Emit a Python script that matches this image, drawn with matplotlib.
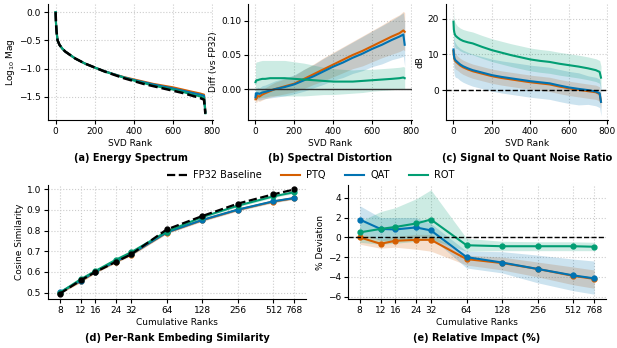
import matplotlib.pyplot as plt
import numpy as np
from matplotlib.lines import Line2D

plt.rcParams["font.family"] = "DejaVu Sans"
plt.rcParams["font.size"] = 6.5

C_PTQ = "#d55e00"
C_QAT = "#0173b2"
C_ROT = "#029e73"

# ---- top row: values read at these SVD ranks ----
ranks = [0, 2, 5, 10, 20, 35, 50, 75, 100, 150, 200, 250, 300, 350, 400,
         450, 500, 550, 600, 650, 700, 740, 760, 767]

# (a) log10 magnitude
mag_fp32 = [0.0, -0.2, -0.35, -0.5, -0.58, -0.65, -0.70, -0.76, -0.82, -0.91, -0.98, -1.05,
            -1.11, -1.17, -1.22, -1.27, -1.31, -1.35, -1.39, -1.43, -1.48, -1.52, -1.55, -1.80]
mag_ptq = [0.0, -0.2, -0.35, -0.5, -0.58, -0.65, -0.70, -0.76, -0.82, -0.91, -0.98, -1.045,
           -1.10, -1.15, -1.19, -1.23, -1.27, -1.30, -1.33, -1.37, -1.41, -1.44, -1.46, -1.75]
mag_qat = [0.0, -0.2, -0.35, -0.5, -0.58, -0.65, -0.70, -0.76, -0.82, -0.91, -0.98, -1.045,
           -1.10, -1.155, -1.20, -1.24, -1.28, -1.315, -1.35, -1.39, -1.43, -1.46, -1.48, -1.77]
mag_rot = [0.0, -0.2, -0.35, -0.5, -0.58, -0.65, -0.70, -0.76, -0.82, -0.91, -0.98, -1.05,
           -1.105, -1.16, -1.21, -1.255, -1.30, -1.335, -1.37, -1.41, -1.46, -1.49, -1.52, -1.79]

# (b) spectral distortion, mean and spread
diff_ptq = [-0.015, -0.012, -0.014, -0.010, -0.011, -0.008, -0.006, -0.003, 0.000, 0.004, 0.008,
            0.015, 0.022, 0.029, 0.036, 0.043, 0.050, 0.056, 0.063, 0.070, 0.077, 0.082, 0.086, 0.084]
diff_qat = [-0.012, -0.006, -0.008, -0.006, -0.007, -0.005, -0.004, -0.002, 0.000, 0.003, 0.007,
            0.013, 0.019, 0.026, 0.033, 0.039, 0.046, 0.052, 0.059, 0.065, 0.072, 0.077, 0.080, 0.065]
diff_rot = [0.010, 0.012, 0.013, 0.013, 0.014, 0.015, 0.015, 0.016, 0.016, 0.016, 0.015, 0.014,
            0.013, 0.012, 0.011, 0.011, 0.011, 0.012, 0.013, 0.014, 0.015, 0.016, 0.017, 0.016]
sd_ptq = [0.006, 0.006, 0.006, 0.007, 0.007, 0.008, 0.008, 0.009, 0.010, 0.011, 0.012, 0.014,
          0.015, 0.017, 0.018, 0.019, 0.020, 0.022, 0.023, 0.024, 0.026, 0.027, 0.028, 0.028]
sd_qat = [0.008, 0.008, 0.008, 0.009, 0.009, 0.010, 0.010, 0.011, 0.012, 0.013, 0.014, 0.016,
          0.017, 0.019, 0.020, 0.022, 0.023, 0.025, 0.026, 0.028, 0.029, 0.031, 0.032, 0.032]
sd_rot = [0.027, 0.027, 0.027, 0.027, 0.027, 0.027, 0.027, 0.026, 0.026, 0.026, 0.025, 0.024,
          0.022, 0.020, 0.019, 0.018, 0.017, 0.017, 0.016, 0.016, 0.016, 0.016, 0.016, 0.016]

# (c) SNR in dB, mean and spread
snr_ptq = [11.0, 9.7, 8.6, 8.1, 7.6, 6.9, 6.4, 5.8, 5.3, 4.6, 3.9, 3.4, 3.0, 2.6, 2.2,
           1.9, 1.6, 1.0, 0.5, 0.1, -0.3, -0.6, -1.1, -3.3]
snr_qat = [11.4, 10.0, 8.9, 8.4, 7.9, 7.2, 6.7, 6.1, 5.6, 4.9, 4.2, 3.7, 3.3, 2.9, 2.5,
           2.2, 1.9, 1.3, 0.75, 0.35, 0.0, -0.4, -0.9, -3.3]
snr_rot = [19.2, 17.0, 16.0, 15.3, 14.8, 14.2, 13.8, 13.4, 13.1, 12.1, 11.2, 10.5, 9.8, 9.2,
           8.6, 8.2, 7.9, 7.4, 7.0, 6.6, 6.1, 5.6, 5.1, 3.5]
snr_sd_ptq = [2.2] * 4 + [2.0] * 20
snr_sd_qat = [4.8] * 4 + [4.5] * 16 + [4.0] * 4
snr_sd_rot = [3.5] * 4 + [3.2] * 20

# ---- bottom row: cumulative ranks ----
cum_ranks = [8, 12, 16, 24, 32, 64, 128, 256, 512, 768]
cos_fp32 = [0.495, 0.560, 0.600, 0.650, 0.685, 0.805, 0.870, 0.930, 0.975, 0.998]
cos_ptq = [0.500, 0.555, 0.600, 0.650, 0.684, 0.790, 0.850, 0.900, 0.940, 0.956]
cos_qat = [0.502, 0.558, 0.602, 0.652, 0.686, 0.791, 0.851, 0.901, 0.941, 0.957]
cos_rot = [0.500, 0.565, 0.605, 0.660, 0.695, 0.795, 0.865, 0.920, 0.965, 0.985]

dev_ptq = [0.0, -0.65, -0.35, -0.25, -0.25, -2.2, -2.6, -3.2, -3.9, -4.2]
dev_qat = [1.8, 0.85, 0.8, 1.0, 0.7, -2.0, -2.55, -3.2, -3.85, -4.15]
dev_rot = [0.5, 0.85, 1.05, 1.4, 1.8, -0.8, -0.9, -0.9, -0.9, -0.95]
dev_ptq_hi = [0.4, -0.2, 0.1, 0.3, 0.3, -1.8, -2.0, -2.5, -3.0, -3.3]
dev_ptq_lo = [-0.7, -1.1, -1.0, -1.2, -1.4, -2.8, -3.3, -4.0, -4.8, -5.15]
dev_qat_hi = [3.2, 2.0, 2.0, 2.0, 1.4, -1.4, -1.45, -1.8, -2.2, -2.4]
dev_qat_lo = [0.4, -0.3, -0.4, 0.0, 0.0, -3.1, -3.6, -4.6, -5.4, -5.75]
dev_rot_hi = [1.6, 2.6, 3.0, 3.9, 4.8, -0.1, -0.4, -0.45, -0.45, -0.5]
dev_rot_lo = [-0.5, -0.7, -0.6, -0.4, -0.2, -1.4, -1.35, -1.35, -1.35, -1.35]


def style(ax):
    ax.grid(True, linestyle=":", color="#cccccc", linewidth=0.8)
    ax.set_axisbelow(True)
    for s in ("top", "right"):
        ax.spines[s].set_visible(False)
    ax.tick_params(length=3, width=0.8, pad=2)


def caption(ax, text, y):
    ax.text(0.5, y, text, transform=ax.transAxes, ha="center", va="center",
            fontweight="bold", fontsize=7)


fig = plt.figure(figsize=(6.17, 3.48), dpi=100)
ax_a = fig.add_axes([0.078, 0.655, 0.267, 0.333])
ax_b = fig.add_axes([0.402, 0.655, 0.266, 0.333])
ax_c = fig.add_axes([0.723, 0.655, 0.263, 0.333])
ax_d = fig.add_axes([0.078, 0.141, 0.418, 0.327])
ax_e = fig.add_axes([0.564, 0.141, 0.418, 0.327])

r = np.array(ranks)

# (a)
ax_a.plot(r, mag_ptq, color=C_PTQ, lw=1.5)
ax_a.plot(r, mag_qat, color=C_QAT, lw=1.5)
ax_a.plot(r, mag_rot, color=C_ROT, lw=1.5)
ax_a.plot(r, mag_fp32, color="black", lw=1.8, ls="--")
ax_a.set_ylim(-1.91, 0.14)
ax_a.set_yticks([0.0, -0.5, -1.0, -1.5])
ax_a.set_xticks([0, 200, 400, 600, 800])
ax_a.set_ylabel("Log$_{10}$ Mag", labelpad=2)
ax_a.set_xlabel("SVD Rank", labelpad=2)
caption(ax_a, "(a) Energy Spectrum", -0.33)

# (b)
for m, sd, c in [(diff_ptq, sd_ptq, C_PTQ), (diff_qat, sd_qat, C_QAT), (diff_rot, sd_rot, C_ROT)]:
    m = np.array(m)
    sd = np.array(sd)
    ax_b.fill_between(r, m - sd, m + sd, color=c, alpha=0.2, lw=0)
    ax_b.plot(r, m, color=c, lw=1.5)
ax_b.axhline(0, color="#333333", lw=1.0)
ax_b.set_ylim(-0.0454, 0.1245)
ax_b.set_yticks([0.0, 0.05, 0.10])
ax_b.set_xticks([0, 200, 400, 600, 800])
ax_b.set_ylabel("Diff (vs FP32)", labelpad=2)
ax_b.set_xlabel("SVD Rank", labelpad=2)
caption(ax_b, "(b) Spectral Distortion", -0.33)

# (c)
for m, sd, c in [(snr_ptq, snr_sd_ptq, C_PTQ), (snr_qat, snr_sd_qat, C_QAT), (snr_rot, snr_sd_rot, C_ROT)]:
    m = np.array(m)
    sd = np.array(sd)
    ax_c.fill_between(r, m - sd, m + sd, color=c, alpha=0.2, lw=0)
    ax_c.plot(r, m, color=c, lw=1.5)
ax_c.axhline(0, color="black", lw=1.0, ls="--")
ax_c.set_ylim(-8.4, 24.1)
ax_c.set_yticks([0, 10, 20])
ax_c.set_xticks([0, 200, 400, 600, 800])
ax_c.set_ylabel("dB", labelpad=2)
ax_c.set_xlabel("SVD Rank", labelpad=2)
caption(ax_c, "(c) Signal to Quant Noise Ratio", -0.33)

cr = np.array(cum_ranks)

# (d)
for m, c in [(cos_ptq, C_PTQ), (cos_qat, C_QAT), (cos_rot, C_ROT)]:
    m = np.array(m)
    ax_d.fill_between(cr, m - 0.006, m + 0.006, color=c, alpha=0.2, lw=0)
    ax_d.plot(cr, m, color=c, lw=1.5, marker="o", ms=3.5)
ax_d.plot(cr, cos_fp32, color="black", lw=1.6, ls="--", marker="o", ms=3.5, zorder=5)
ax_d.set_xscale("log", base=2)
ax_d.set_xticks(cum_ranks)
ax_d.set_xticklabels([str(v) for v in cum_ranks])
ax_d.minorticks_off()
ax_d.set_ylim(0.47, 1.019)
ax_d.set_yticks([0.5, 0.6, 0.7, 0.8, 0.9, 1.0])
ax_d.set_ylabel("Cosine Similarity", labelpad=2)
ax_d.set_xlabel("Cumulative Ranks", labelpad=2)
caption(ax_d, "(d) Per-Rank Embeding Similarity", -0.34)

# (e)
for m, lo, hi, c in [(dev_ptq, dev_ptq_lo, dev_ptq_hi, C_PTQ),
                     (dev_qat, dev_qat_lo, dev_qat_hi, C_QAT),
                     (dev_rot, dev_rot_lo, dev_rot_hi, C_ROT)]:
    ax_e.fill_between(cr, lo, hi, color=c, alpha=0.2, lw=0)
    ax_e.plot(cr, m, color=c, lw=1.5, marker="o", ms=3.5)
ax_e.axhline(0, color="black", lw=1.0, ls="--")
ax_e.set_xscale("log", base=2)
ax_e.set_xticks(cum_ranks)
ax_e.set_xticklabels([str(v) for v in cum_ranks])
ax_e.minorticks_off()
ax_e.set_ylim(-6.23, 5.28)
ax_e.set_yticks([-6, -4, -2, 0, 2, 4])
ax_e.set_ylabel("% Deviation", labelpad=2)
ax_e.set_xlabel("Cumulative Ranks", labelpad=2)
caption(ax_e, "(e) Relative Impact (%)", -0.34)

for ax in (ax_a, ax_b, ax_c, ax_d, ax_e):
    style(ax)

handles = [Line2D([], [], color="black", ls="--", lw=1.6),
           Line2D([], [], color=C_PTQ, lw=1.5),
           Line2D([], [], color=C_QAT, lw=1.5),
           Line2D([], [], color=C_ROT, lw=1.5)]
fig.legend(handles, ["FP32 Baseline", "PTQ", "QAT", "ROT"], loc="center",
           bbox_to_anchor=(0.504, 0.497), ncol=4, frameon=False, fontsize=7,
           columnspacing=2.0, handlelength=2.0, handletextpad=0.6)

fig.savefig("out.png", dpi=100)
